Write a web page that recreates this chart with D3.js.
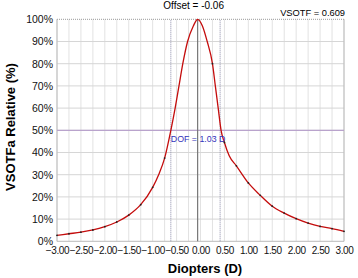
<!DOCTYPE html>
<html>
<head>
<meta charset="utf-8">
<script src="https://cdn.jsdelivr.net/npm/d3@7"></script>
<style>
body { margin: 0; background: #fff; }
text { font-family: "Liberation Sans", Arial, sans-serif; }
</style>
</head>
<body>
<svg></svg>
<script>
// defocus (D) vs relative VSOTFa (%)
const diopters = [-3, -2.75, -2.5, -2.25, -2, -1.75, -1.5, -1.25, -1, -0.875, -0.75, -0.62, -0.53, -0.45, -0.37, -0.27, -0.15, -0.06,
    0.04, 0.14, 0.25, 0.31, 0.37, 0.43, 0.5, 0.6, 0.75, 1, 1.25, 1.5, 1.75, 2, 2.25, 2.5, 2.75, 3];
const relative = [2.7, 3.4, 4.1, 5.1, 6.6, 8.7, 11.8, 16.5, 24.3, 30, 37.5, 50, 60, 70, 80, 90, 97, 100,
    97, 90, 80, 70, 60, 50, 44.5, 38.5, 34, 26.3, 20.7, 15.8, 12.7, 10.2, 8.2, 6.7, 5.7, 4.5];
const xTicks = [-3, -2.5, -2, -1.5, -1, -0.5, 0, 0.5, 1, 1.5, 2, 2.5, 3];
const yTicks = [0, 10, 20, 30, 40, 50, 60, 70, 80, 90, 100];
const offset = -0.06;
const dofRange = [-0.62, 0.41];
const dof = 1.03;
const vsotf = 0.609;

let width = 358;
let height = 278;
let margin = {left: 57, right: 14, top: 19.3, bottom: 36.7};

let svg = d3.select('svg')
    .attr('width', width)
    .attr('height', height);

let x = d3.scaleLinear().domain([-3, 3]).range([margin.left, width - margin.right]);
let y = d3.scaleLinear().domain([0, 100]).range([height - margin.bottom, margin.top]);

// grid
svg.append('g')
    .selectAll('line')
    .data(d3.range(-3, 3.001, 0.25))
    .join('line')
    .attr('x1', d => x(d)).attr('x2', d => x(d))
    .attr('y1', y(0)).attr('y2', y(100))
    .attr('stroke', '#e2e2e2')
    .attr('stroke-width', 1);

svg.append('g')
    .selectAll('line')
    .data(yTicks.slice(1, -1))
    .join('line')
    .attr('x1', x(-3)).attr('x2', x(3))
    .attr('y1', d => y(d)).attr('y2', d => y(d))
    .attr('stroke', '#d6d6d6');

// frame
svg.append('line').attr('x1', x(-3)).attr('x2', x(3)).attr('y1', y(100)).attr('y2', y(100))
    .attr('stroke', '#999').attr('stroke-dasharray', '1,1');
svg.append('line').attr('x1', x(-3)).attr('x2', x(-3)).attr('y1', y(0)).attr('y2', y(100))
    .attr('stroke', '#bbb');
svg.append('line').attr('x1', x(3)).attr('x2', x(3)).attr('y1', y(0)).attr('y2', y(100))
    .attr('stroke', '#bbb');
svg.append('line').attr('x1', x(-3)).attr('x2', x(3)).attr('y1', y(0)).attr('y2', y(0))
    .attr('stroke', '#bbb');

// 50% line
svg.append('line').attr('x1', x(-3)).attr('x2', x(3)).attr('y1', y(50)).attr('y2', y(50))
    .attr('stroke', '#b9a3cc').attr('stroke-width', 1.2);

// DOF bounds
svg.append('g')
    .selectAll('line')
    .data(dofRange)
    .join('line')
    .attr('x1', d => x(d)).attr('x2', d => x(d))
    .attr('y1', y(0)).attr('y2', y(100))
    .attr('stroke', '#8a8aa8')
    .attr('stroke-dasharray', '1,1');

// offset line
svg.append('line').attr('x1', x(offset)).attr('x2', x(offset)).attr('y1', y(0)).attr('y2', y(100))
    .attr('stroke', '#777').attr('stroke-width', 1.2);

// curve
let pts = diopters.map((d, i) => [d, relative[i]]);
let line = d3.line()
    .x(d => x(d[0]))
    .y(d => y(d[1]))
    .curve(d3.curveMonotoneX);

svg.append('path')
    .datum(pts)
    .attr('d', line)
    .attr('fill', 'none')
    .attr('stroke', '#c40c0c')
    .attr('stroke-width', 1.3);

svg.append('g')
    .selectAll('circle')
    .data(pts.filter(d => Math.abs(d[0] * 4 - Math.round(d[0] * 4)) < 1e-6))
    .join('circle')
    .attr('cx', d => x(d[0]))
    .attr('cy', d => y(d[1]))
    .attr('r', 0.9)
    .attr('fill', '#222');

// axes
let xAxis = d3.axisBottom(x).tickValues(xTicks).tickFormat(d3.format('.2f')).tickSize(0).tickPadding(6);
let gx = svg.append('g')
    .attr('transform', `translate(0, ${y(0)})`)
    .call(xAxis);
gx.select('.domain').remove();
gx.selectAll('text')
    .attr('font-size', 10)
    .attr('font-family', '"Liberation Sans", Arial, sans-serif')
    .attr('fill', '#111')
    .attr('letter-spacing', -0.4);

let yAxis = d3.axisLeft(y).tickValues(yTicks).tickFormat(d => d + '%').tickSize(0).tickPadding(4);
let gy = svg.append('g')
    .attr('transform', `translate(${x(-3)}, 0)`)
    .call(yAxis);
gy.select('.domain').remove();
gy.selectAll('text')
    .attr('font-size', 10.5)
    .attr('font-family', '"Liberation Sans", Arial, sans-serif')
    .attr('fill', '#111');

// titles
svg.append('text')
    .attr('x', 205).attr('y', 273)
    .attr('text-anchor', 'middle')
    .attr('font-size', 13).attr('font-weight', 'bold')
    .text('Diopters (D)');

svg.append('text')
    .attr('transform', 'translate(15, 127) rotate(-90)')
    .attr('text-anchor', 'middle')
    .attr('font-size', 13).attr('font-weight', 'bold')
    .text('VSOTFa Relative (%)');

svg.append('text')
    .attr('x', x(offset) - 4).attr('y', 9)
    .attr('text-anchor', 'middle')
    .attr('font-size', 10)
    .text('Offset = ' + offset.toFixed(2));

svg.append('text')
    .attr('x', x(3) + 1).attr('y', 15.5)
    .attr('text-anchor', 'end')
    .attr('font-size', 9.3)
    .text('VSOTF = ' + vsotf.toFixed(3));

svg.append('text')
    .attr('x', x(dofRange[0])).attr('y', 141.5)
    .attr('font-size', 8.8)
    .attr('fill', '#3333bb')
    .text('DOF = ' + dof.toFixed(2) + ' D');
</script>
</body>
</html>
